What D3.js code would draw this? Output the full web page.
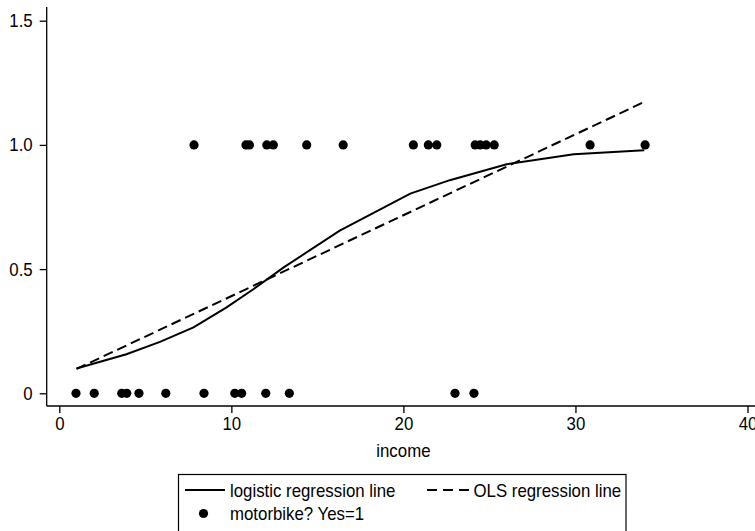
<!DOCTYPE html>
<html>
<head>
<meta charset="utf-8">
<script src="https://cdn.jsdelivr.net/npm/d3@7"></script>
<style>
  html, body { margin: 0; padding: 0; background: #fff; }
  svg { display: block; }
  text { font-family: "Liberation Sans Narrow", "Arial Narrow", "Liberation Sans", sans-serif; fill: #000; }
</style>
</head>
<body>
<svg id="chart" width="755" height="531"></svg>
<script>
// ---- data ----
const xTicks = [0, 10, 20, 30, 40];
const yTicks = [0, 0.5, 1.0, 1.5];
const yTickLabels = ["0", "0.5", "1.0", "1.5"];
// observed incomes, motorbike = 0
const incomeNo = [0.97, 2.03, 3.63, 3.92, 4.63, 6.19, 8.41, 10.2, 10.6, 12.0, 13.37, 23.0, 24.1];
// observed incomes, motorbike = 1
const incomeYes = [7.83, 10.85, 11.05, 12.06, 12.44, 14.38, 16.5, 20.58, 21.45, 21.94, 24.17, 24.46, 24.81, 25.28, 30.85, 34.05];
// logistic regression fitted line
const logitX = [1.0, 3.9, 5.85, 7.8, 9.7, 11.3, 13.0, 16.3, 20.4, 22.7, 26.0, 29.9, 34.0];
const logitY = [0.100, 0.157, 0.207, 0.265, 0.345, 0.420, 0.505, 0.655, 0.804, 0.858, 0.922, 0.962, 0.978];
// OLS regression line
const olsX = [1.0, 34.0];
const olsY = [0.098, 1.173];
const legendLabels = ["logistic regression line", "OLS regression line", "motorbike? Yes=1"];

// ---- chart ----
const svg = d3.select("#chart");
const x = d3.scaleLinear().domain([0, 40]).range([59.3, 747.5]);
const y = d3.scaleLinear().domain([0, 1.5]).range([393.3, 20.7]);
const axisX = 46.7, axisY = 406;
const fs = "19px";
const narrow = 0.885;
function condense(sel) {
  sel.each(function () {
    const w = this.getComputedTextLength();
    this.setAttribute("textLength", (w * narrow).toFixed(2));
    this.setAttribute("lengthAdjust", "spacingAndGlyphs");
  });
}

// y axis
svg.append("line").attr("x1", axisX).attr("x2", axisX).attr("y1", 7).attr("y2", axisY)
  .attr("stroke", "#000").attr("stroke-width", 1.3);
const yAxis = d3.axisLeft(y).tickValues(yTicks).tickSize(7).tickPadding(7)
  .tickFormat((d, i) => yTickLabels[i]);
const gy = svg.append("g").attr("transform", `translate(${axisX},0)`).call(yAxis);
gy.select(".domain").remove();
gy.selectAll(".tick line").attr("stroke", "#000").attr("stroke-width", 1.3);
gy.selectAll(".tick text").style("font-size", fs).attr("font-family", null).call(condense);

// x axis
svg.append("line").attr("x1", axisX).attr("x2", 755).attr("y1", axisY).attr("y2", axisY)
  .attr("stroke", "#000").attr("stroke-width", 1.3);
const xAxis = d3.axisBottom(x).tickValues(xTicks).tickSize(7).tickPadding(4);
const gx = svg.append("g").attr("transform", `translate(0,${axisY})`).call(xAxis);
gx.select(".domain").remove();
gx.selectAll(".tick line").attr("stroke", "#000").attr("stroke-width", 1.3);
gx.selectAll(".tick text").style("font-size", fs).attr("font-family", null).call(condense);

svg.append("text").attr("x", x(20)).attr("y", 457).attr("text-anchor", "middle")
  .style("font-size", fs).text("income").call(condense);

// points
const pts = incomeNo.map(v => [v, 0]).concat(incomeYes.map(v => [v, 1]));
svg.append("g").selectAll("circle").data(pts).join("circle")
  .attr("cx", d => x(d[0])).attr("cy", d => y(d[1])).attr("r", 4.6).attr("fill", "#000");

// lines
const line = d3.line().x(d => x(d[0])).y(d => y(d[1]));
svg.append("path").datum(logitX.map((v, i) => [v, logitY[i]]))
  .attr("d", line).attr("fill", "none").attr("stroke", "#000").attr("stroke-width", 2);
svg.append("path").datum(olsX.map((v, i) => [v, olsY[i]]))
  .attr("d", line).attr("fill", "none").attr("stroke", "#000").attr("stroke-width", 2)
  .attr("stroke-dasharray", "10,5");

// legend
const lg = svg.append("g");
lg.append("rect").attr("x", 178.5).attr("y", 474.5).attr("width", 447.5).attr("height", 60)
  .attr("fill", "none").attr("stroke", "#000").attr("stroke-width", 1.2);
lg.append("line").attr("x1", 185).attr("x2", 225).attr("y1", 490).attr("y2", 490)
  .attr("stroke", "#000").attr("stroke-width", 2);
lg.append("text").attr("x", 230).attr("y", 497).style("font-size", fs).text(legendLabels[0]).call(condense);
lg.append("line").attr("x1", 427).attr("x2", 470).attr("y1", 490).attr("y2", 490)
  .attr("stroke", "#000").attr("stroke-width", 2).attr("stroke-dasharray", "10,6");
lg.append("text").attr("x", 473.5).attr("y", 497).style("font-size", fs).text(legendLabels[1]).call(condense);
lg.append("circle").attr("cx", 203.5).attr("cy", 513.5).attr("r", 4.6).attr("fill", "#000");
lg.append("text").attr("x", 230).attr("y", 520).style("font-size", fs).text(legendLabels[2]).call(condense);
</script>
</body>
</html>
